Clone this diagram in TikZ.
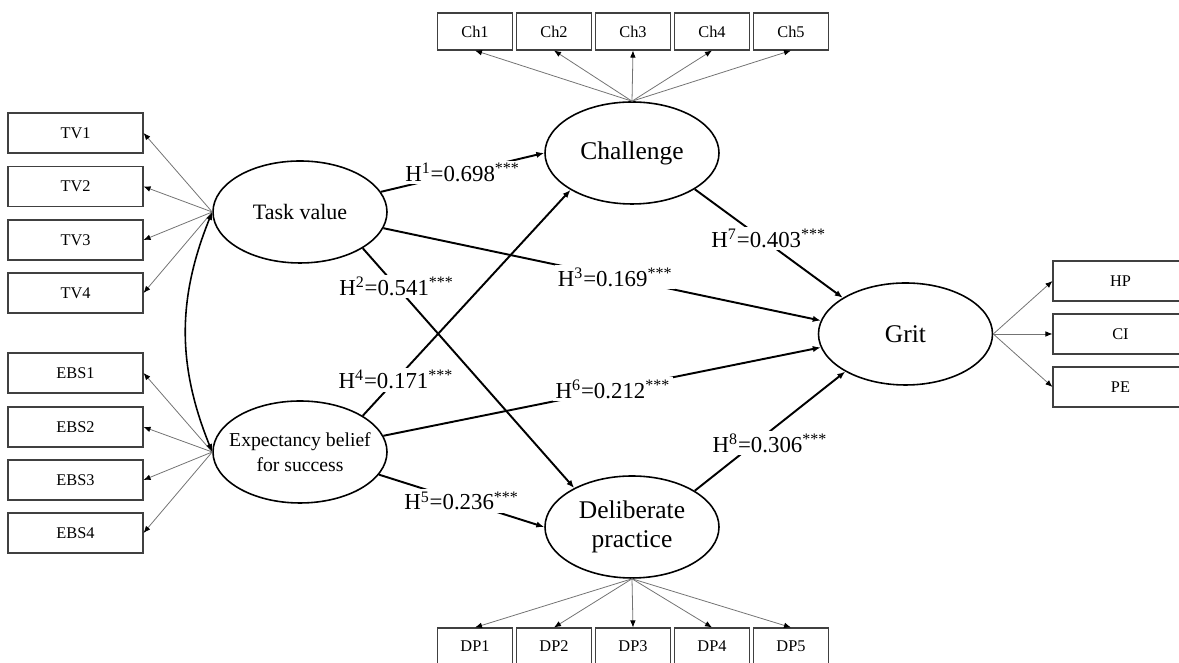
\documentclass[tikz,border=0pt]{standalone}
\usepackage{fontspec}
\setmainfont{Liberation Serif}
\usetikzlibrary{shapes.geometric,arrows.meta}

\begin{document}
\begin{tikzpicture}[>={Latex[length=4.5pt,width=3.6pt]},
            item/.style={draw=black!75, line width=0.6pt, minimum width=2.7cm, minimum height=0.8cm, inner sep=0pt, font=\fontsize{9.3}{11}\selectfont},
            itemsm/.style={item, minimum width=1.5cm, minimum height=0.74cm},
            latent/.style={draw, ellipse, line width=0.9pt, minimum width=3.48cm, minimum height=2.04cm, inner sep=0pt, align=center, font=\fontsize{14.5}{16.5}\selectfont},
            load/.style={-{Latex[length=4pt,width=3.2pt,black]}, draw=black!55, line width=0.45pt},
            effect/.style={->, line width=1.1pt},
            hlab/.style={fill=white, inner sep=1.5pt, font=\fontsize{13}{15}\selectfont}]
            \useasboundingbox (0,0) rectangle (23.58,13.26);

            % latent variables
            \node[latent, font=\fontsize{12.5}{14}\selectfont] (tv) at (6.0,9.02) {Task value};
            \node[latent] (eb) at (6.0,4.22) {};
            \node[font=\fontsize{11.2}{14}\selectfont, align=center] (ebtext) at (eb) {Expectancy belief\\for success};
            \node[latent] (ch) at (12.64,10.2) {Challenge};
            \node[latent] (dp) at (12.64,2.72) {Deliberate\\practice};
            \node[latent] (gr) at (18.11,6.58) {Grit};

            % indicators
            \foreach \i/\y in {1/10.6,2/9.53,3/8.46,4/7.4} {
                \node[item] (tv\i) at (1.51,\y) {TV\i};
                \draw[load] (tv.west) -- (tv\i.east);
            }
            \foreach \i/\y in {1/5.8,2/4.72,3/3.66,4/2.6} {
                \node[item] (ebs\i) at (1.51,\y) {EBS\i};
                \draw[load] (eb.west) -- (ebs\i.east);
            }
            \foreach \i/\x in {1/9.5,2/11.08,3/12.66,4/14.24,5/15.82} {
                \node[itemsm] (ch\i) at (\x,12.63) {Ch\i};
                \draw[load] (ch.north) -- (ch\i.south);
                \node[itemsm] (dp\i) at (\x,0.33) {DP\i};
                \draw[load] (dp.south) -- (dp\i.north);
            }
            \foreach \n/\y in {HP/7.64,CI/6.58,PE/5.52} {
                \node[item] (\n) at (22.41,\y) {\n};
                \draw[load] (gr.east) -- (\n.west);
            }

            % correlation
            \draw[<->, line width=0.9pt] (tv.west) to[bend right=22] (eb.west);

            % hypotheses
            \draw[effect] (tv.14) -- node[hlab] {H\textsuperscript{1}=0.698\textsuperscript{***}} (ch.west);
            \draw[effect] (tv.-30) -- node[hlab, pos=0.16] {H\textsuperscript{2}=0.541\textsuperscript{***}} (dp.146);
            \draw[effect] (tv.-11) -- node[hlab, pos=0.53] {H\textsuperscript{3}=0.169\textsuperscript{***}} (gr.171);
            \draw[effect] (eb.30) -- node[hlab, pos=0.16] {H\textsuperscript{4}=0.171\textsuperscript{***}} (ch.-149);
            \draw[effect] (eb.-16) -- node[hlab] {H\textsuperscript{5}=0.236\textsuperscript{***}} (dp.west);
            \draw[effect] (eb.11) -- node[hlab, pos=0.525] {H\textsuperscript{6}=0.212\textsuperscript{***}} (gr.-171);
            \draw[effect] (ch.-30) -- node[hlab, yshift=0.1cm] {H\textsuperscript{7}=0.403\textsuperscript{***}} (gr.150);
            \draw[effect] (dp.30) -- node[hlab, yshift=-0.24cm] {H\textsuperscript{8}=0.306\textsuperscript{***}} (gr.-148);
        \end{tikzpicture}
\end{document}
